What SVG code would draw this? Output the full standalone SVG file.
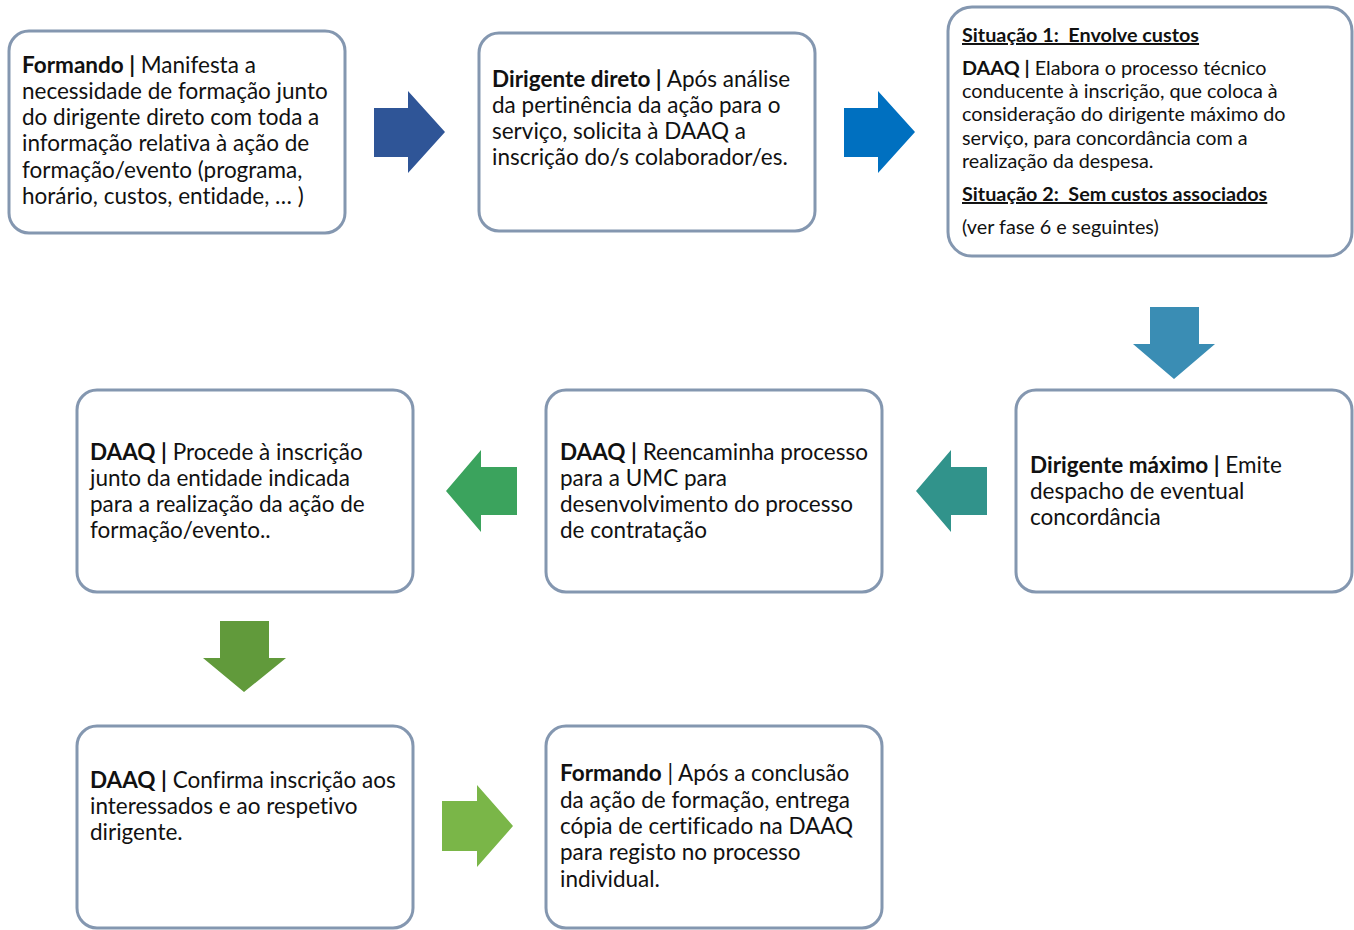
<svg xmlns="http://www.w3.org/2000/svg" width="1354" height="930" viewBox="0 0 1354 930">
<style>
.box{fill:#fff;stroke:#8497B0;stroke-width:3}
.t{font-family:Lato,"Open Sans","Liberation Sans",sans-serif;font-size:22.5px;fill:#111;font-variant-ligatures:none}
.s{font-family:Lato,"Open Sans","Liberation Sans",sans-serif;font-size:19.8px;fill:#111;font-variant-ligatures:none}
.b{font-weight:bold}
.u{font-weight:bold;text-decoration:underline;white-space:pre}
</style>
<rect width="1354" height="930" fill="#fff"/>
<g id="connectors">
<polygon fill="#2F5597" points="374,108 408,108 408,91 445,132 408,173 408,157 374,157"/>
<polygon fill="#0070C0" points="844,108 878,108 878,91 915,132 878,173 878,157 844,157"/>
<polygon fill="#3A8DB4" points="1150,307 1199,307 1199,344 1215,344 1174,379 1133,344 1150,344"/>
<polygon fill="#31938B" points="987,467 951,467 951,450 916,491 951,532 951,515 987,515"/>
<polygon fill="#3BA35D" points="517,467 481,467 481,450 446,491 481,532 481,515 517,515"/>
<polygon fill="#619A3B" points="220,621 269,621 269,658 286,658 244,692 203,658 220,658"/>
<polygon fill="#7AB648" points="442,801 477,801 477,785 513,826 477,867 477,851 442,851"/>
</g>
<g id="n1">
<rect class="box" x="9" y="31" width="336" height="202" rx="20"/>
<text class="t" x="22" y="73"><tspan class="b">Formando |</tspan> Manifesta a</text>
<text class="t" x="22" y="99">necessidade de formação junto</text>
<text class="t" x="22" y="125">do dirigente direto com toda a</text>
<text class="t" x="22" y="151">informação relativa à ação de</text>
<text class="t" x="22" y="178">formação/evento (programa,</text>
<text class="t" x="22" y="204">horário, custos, entidade, … )</text>
</g>
<g id="n2">
<rect class="box" x="479" y="33" width="336" height="198" rx="20"/>
<text class="t" x="492" y="87"><tspan class="b">Dirigente direto |</tspan> Após análise</text>
<text class="t" x="492" y="113">da pertinência da ação para o</text>
<text class="t" x="492" y="139">serviço, solicita à DAAQ a</text>
<text class="t" x="492" y="165">inscrição do/s colaborador/es.</text>
</g>
<g id="n3">
<rect class="box" x="948" y="7" width="404" height="249" rx="24"/>
<text class="s u" x="962" y="42">Situação 1:  Envolve custos</text>
<text class="s" x="962" y="75"><tspan class="b">DAAQ |</tspan> Elabora o processo técnico</text>
<text class="s" x="962" y="98">conducente à inscrição, que coloca à</text>
<text class="s" x="962" y="121">consideração do dirigente máximo do</text>
<text class="s" x="962" y="145">serviço, para concordância com a</text>
<text class="s" x="962" y="168">realização da despesa.</text>
<text class="s u" x="962" y="201">Situação 2:  Sem custos associados</text>
<text class="s" x="962" y="234">(ver fase 6 e seguintes)</text>
</g>
<g id="n4">
<rect class="box" x="1016" y="390" width="336" height="202" rx="20"/>
<text class="t" x="1030" y="473"><tspan class="b">Dirigente máximo |</tspan> Emite</text>
<text class="t" x="1030" y="499">despacho de eventual</text>
<text class="t" x="1030" y="525">concordância</text>
</g>
<g id="n5">
<rect class="box" x="546" y="390" width="336" height="202" rx="20"/>
<text class="t" x="560" y="460"><tspan class="b">DAAQ |</tspan> Reencaminha processo</text>
<text class="t" x="560" y="486">para a UMC para</text>
<text class="t" x="560" y="512">desenvolvimento do processo</text>
<text class="t" x="560" y="538">de contratação</text>
</g>
<g id="n6">
<rect class="box" x="77" y="390" width="336" height="202" rx="20"/>
<text class="t" x="90" y="460"><tspan class="b">DAAQ |</tspan> Procede à inscrição</text>
<text class="t" x="90" y="486">junto da entidade indicada</text>
<text class="t" x="90" y="512">para a realização da ação de</text>
<text class="t" x="90" y="538">formação/evento..</text>
</g>
<g id="n7">
<rect class="box" x="77" y="726" width="336" height="202" rx="20"/>
<text class="t" x="90" y="788"><tspan class="b">DAAQ |</tspan> Confirma inscrição aos</text>
<text class="t" x="90" y="814">interessados e ao respetivo</text>
<text class="t" x="90" y="840">dirigente.</text>
</g>
<g id="n8">
<rect class="box" x="546" y="726" width="336" height="202" rx="20"/>
<text class="t" x="560" y="781"><tspan class="b">Formando</tspan> | Após a conclusão</text>
<text class="t" x="560" y="808">da ação de formação, entrega</text>
<text class="t" x="560" y="834">cópia de certificado na DAAQ</text>
<text class="t" x="560" y="860">para registo no processo</text>
<text class="t" x="560" y="887">individual.</text>
</g>
</svg>
